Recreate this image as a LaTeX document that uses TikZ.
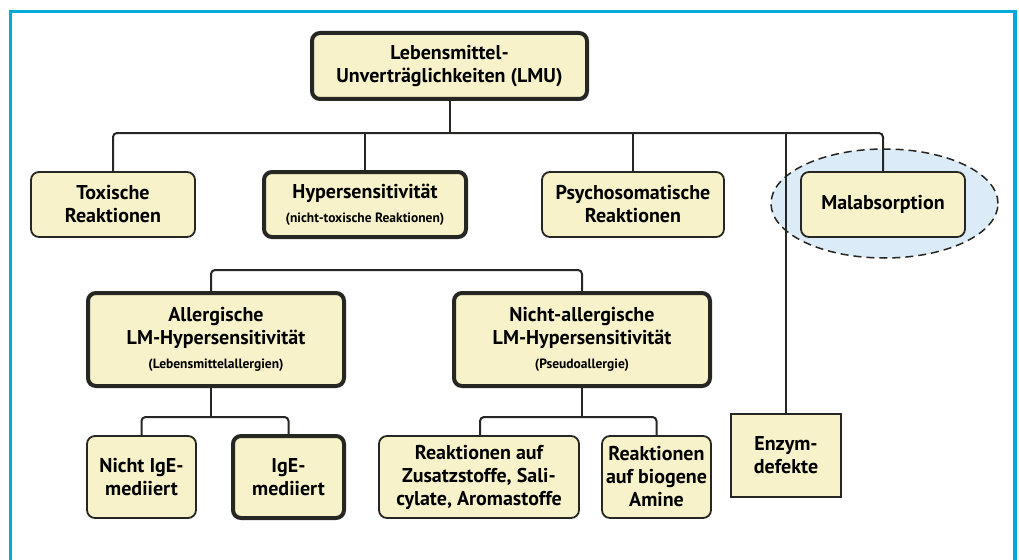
\documentclass[tikz,border=0pt]{standalone}
\usepackage{fontspec}
\setmainfont{PT Sans}
\usepackage{tikz}
\usetikzlibrary{positioning,shapes.geometric}
\definecolor{lmuFill}{RGB}{248, 242, 202}
\definecolor{lmuLine}{RGB}{38, 38, 34}
\definecolor{lmuFrame}{RGB}{0, 170, 218}
\definecolor{lmuBlue}{RGB}{220, 235, 248}
\newcommand{\kleintext}[1]{{\fontsize{13.5}{14}\selectfont #1}}

\begin{document}
\begin{tikzpicture}[x=1pt, y=-1pt,
    box/.style={draw=lmuLine, line width=1.8pt, rounded corners=8pt, fill=lmuFill, align=center, inner sep=0pt, font=\fontsize{20}{23}\selectfont\bfseries},
    bigbox/.style={box, line width=4pt},
    line/.style={draw=lmuLine, line width=2pt, rounded corners=4pt}
  ]
  \useasboundingbox (0,0) rectangle (1019,559);
  \draw[lmuFrame, line width=3.3pt] (10.5,11.3) rectangle (1015,600);

  % Malabsorption zone
  \node[ellipse, draw=lmuLine, line width=1.5pt, dash pattern=on 8pt off 5pt, fill=lmuBlue, minimum width=227, minimum height=109] (malzone) at (884.5,203.5) {};

  \node[bigbox, minimum width=275, minimum height=66] (lmu) at (449.5,66) {Lebensmittel-\\Unverträglichkeiten (LMU)};
  \node[box, minimum width=164, minimum height=65] (tox) at (113,204.5) {Toxische\\Reaktionen};
  \node[bigbox, minimum width=202, minimum height=65] (hyp) at (365,204.5) {Hypersensitivität\\[1pt]\kleintext{(nicht-toxische Reaktionen)}};
  \node[box, minimum width=182, minimum height=65] (psy) at (633,204.5) {Psychosomatische\\Reaktionen};
  \node[box, minimum width=164, minimum height=65] (mal) at (883,204.5) {Malabsorption};
  \node[box, rounded corners=0pt, minimum width=110, minimum height=83] (enz) at (786,455.5) {Enzym-\\defekte};

  \node[bigbox, minimum width=256, minimum height=93] (all) at (216,339.5) {Allergische\\LM-Hypersensitivität\\[1pt]\kleintext{(Lebensmittelallergien)}};
  \node[bigbox, minimum width=256, minimum height=93] (nall) at (582,339.5) {Nicht-allergische\\LM-Hypersensitivität\\[1pt]\kleintext{(Pseudoallergie)}};

  \node[box, minimum width=109, minimum height=82] (nige) at (141.5,477) {Nicht IgE-\\mediiert};
  \node[bigbox, minimum width=111, minimum height=82] (ige) at (288.5,477) {IgE-\\mediiert};
  \node[box, minimum width=200, minimum height=82] (zus) at (479,477) {Reaktionen auf\\Zusatzstoffe, Sali-\\cylate, Aromastoffe};
  \node[box, minimum width=109, minimum height=82] (bio) at (656.5,477) {Reaktionen\\auf biogene\\Amine};

  % connectors
  \coordinate (bar1) at (449,133);
  \coordinate (bar2) at (211,270);
  \coordinate (bar3) at (211,417);
  \coordinate (bar4) at (582,417);
  \draw[line] (lmu.south) -- (lmu.south |- bar1);
  \draw[line] (tox.north) |- (mal.north |- bar1) -- (mal.north);
  \draw[line] (hyp.north) -- (hyp.north |- bar1);
  \draw[line] (psy.north) -- (psy.north |- bar1);
  \draw[line] (enz.north) -- (enz.north |- bar1);
  \draw[line] ([xshift=-5pt]all.north) |- (nall.north |- bar2) -- (nall.north);
  \draw[line] ([xshift=-5pt]all.south) -- (bar3);
  \draw[line] (nige.north) |- (ige.north |- bar3) -- (ige.north);
  \draw[line] (nall.south) -- (bar4);
  \draw[line] ([xshift=1pt]zus.north) |- (bio.north |- bar4) -- (bio.north);
\end{tikzpicture}
\end{document}
